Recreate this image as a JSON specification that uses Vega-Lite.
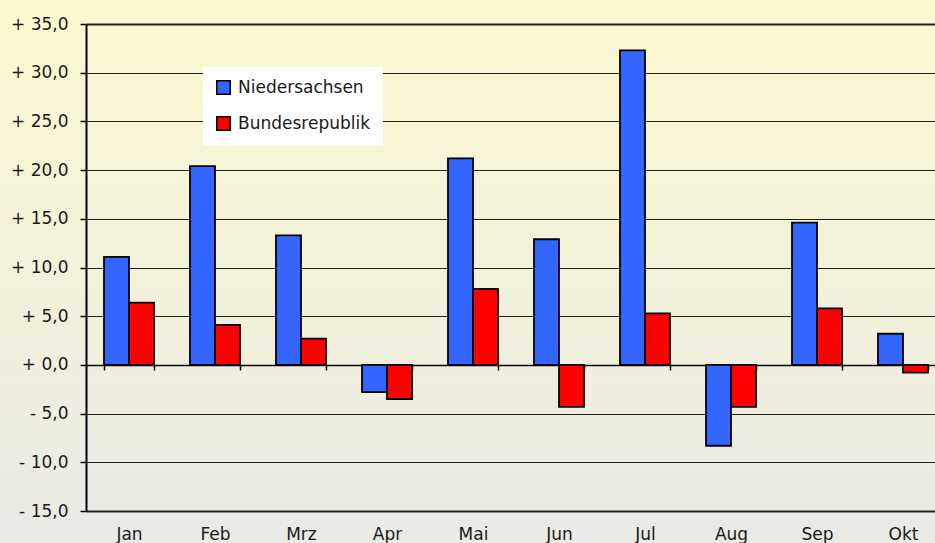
{
  "$schema": "https://vega.github.io/schema/vega-lite/v6.json",
  "width": 935,
  "height": 543,
  "autosize": "none",
  "padding": 0,
  "background": "#F1F0DC",
  "config": {
    "font": "DejaVu Sans",
    "view": {
      "stroke": null,
      "fill": {
        "gradient": "linear",
        "x1": 0, "y1": 0, "x2": 0, "y2": 1,
        "stops": [
          {"offset": 0, "color": "#FBF9CF"},
          {"offset": 1, "color": "#EAEAE6"}
        ]
      }
    }
  },
  "data": {
    "values": [
      {"month": "Jan", "series": "Niedersachsen", "value": 11.1},
      {"month": "Jan", "series": "Bundesrepublik", "value": 6.4},
      {"month": "Feb", "series": "Niedersachsen", "value": 20.4},
      {"month": "Feb", "series": "Bundesrepublik", "value": 4.1},
      {"month": "Mrz", "series": "Niedersachsen", "value": 13.3},
      {"month": "Mrz", "series": "Bundesrepublik", "value": 2.7},
      {"month": "Apr", "series": "Niedersachsen", "value": -2.8},
      {"month": "Apr", "series": "Bundesrepublik", "value": -3.5},
      {"month": "Mai", "series": "Niedersachsen", "value": 21.2},
      {"month": "Mai", "series": "Bundesrepublik", "value": 7.8},
      {"month": "Jun", "series": "Niedersachsen", "value": 12.9},
      {"month": "Jun", "series": "Bundesrepublik", "value": -4.3},
      {"month": "Jul", "series": "Niedersachsen", "value": 32.3},
      {"month": "Jul", "series": "Bundesrepublik", "value": 5.3},
      {"month": "Aug", "series": "Niedersachsen", "value": -8.3},
      {"month": "Aug", "series": "Bundesrepublik", "value": -4.3},
      {"month": "Sep", "series": "Niedersachsen", "value": 14.6},
      {"month": "Sep", "series": "Bundesrepublik", "value": 5.8},
      {"month": "Okt", "series": "Niedersachsen", "value": 3.2},
      {"month": "Okt", "series": "Bundesrepublik", "value": -0.8}
    ]
  },
  "mark": {"type": "bar", "stroke": "#000000", "strokeWidth": 1.8},
  "encoding": {
    "x": {
      "field": "month",
      "type": "nominal",
      "sort": null,
      "scale": {"range": [86, 946], "paddingInner": 0.4186, "paddingOuter": 0.2093},
      "axis": {
        "title": null,
        "orient": "bottom",
        "offset": -178,
        "labelAngle": 0,
        "labelFontSize": 17,
        "labelColor": "#1a1a1a",
        "labelPadding": 156,
        "domainColor": "#000000",
        "domainWidth": 1.5,
        "tickColor": "#000000",
        "tickWidth": 1.5,
        "tickSize": 5,
        "tickBand": "extent",
        "grid": false
      }
    },
    "xOffset": {
      "field": "series",
      "type": "nominal",
      "sort": ["Niedersachsen", "Bundesrepublik"]
    },
    "y": {
      "field": "value",
      "type": "quantitative",
      "scale": {"domain": [-15, 35], "range": [511, 24], "nice": false, "zero": false},
      "axis": {
        "title": null,
        "offset": -86,
        "values": [-15, -10, -5, 0, 5, 10, 15, 20, 25, 30, 35],
        "labelExpr": "(datum.value < 0 ? '- ' : '+ ') + replace(format(abs(datum.value), '.1f'), '.', ',')",
        "labelFontSize": 17,
        "labelColor": "#1a1a1a",
        "labelPadding": 12,
        "domainColor": "#000000",
        "domainWidth": 2,
        "tickColor": "#000000",
        "tickWidth": 1.5,
        "tickSize": 6,
        "grid": true,
        "gridColor": "#222222",
        "gridWidth": {"condition": {"test": "datum.value == 35 || datum.value == -15", "value": 2.2}, "value": 1.2}
      }
    },
    "fill": {
      "field": "series",
      "type": "nominal",
      "scale": {"domain": ["Niedersachsen", "Bundesrepublik"], "range": ["#3366FF", "#FF0000"]},
      "legend": {
        "title": null,
        "orient": "none",
        "legendX": 203,
        "legendY": 67,
        "fillColor": "#FFFFFF",
        "padding": 12,
        "symbolType": "square",
        "symbolSize": 180,
        "symbolStrokeColor": "#000000",
        "symbolStrokeWidth": 1.5,
        "labelFontSize": 17,
        "labelColor": "#1a1a1a",
        "labelOffset": 6,
        "rowPadding": 15
      }
    }
  }
}
